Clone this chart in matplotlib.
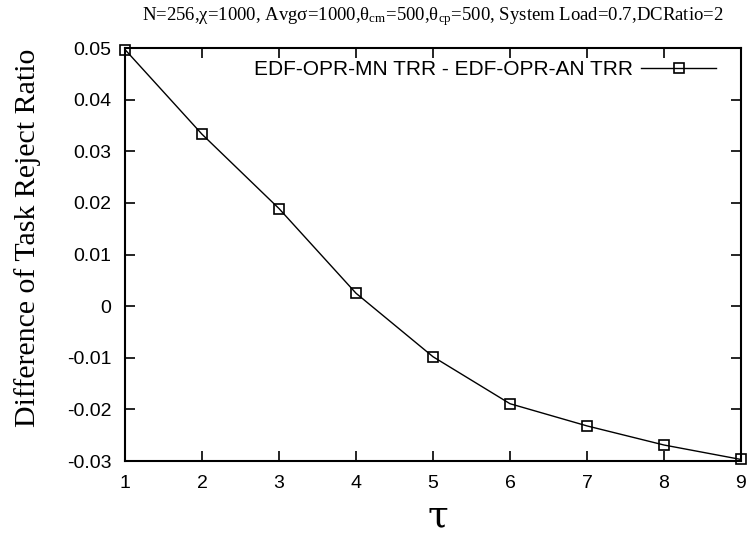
import matplotlib
matplotlib.use('Agg')
import matplotlib.pyplot as plt

# tau vs difference of task reject ratio
tau = [1, 2, 3, 4, 5, 6, 7, 8, 9]
diff_trr = [0.0497, 0.0333, 0.0189, 0.0025, -0.0098, -0.0189, -0.0232, -0.0269, -0.0297]

yticks = [-0.03, -0.02, -0.01, 0, 0.01, 0.02, 0.03, 0.04, 0.05]
ytick_labels = ['-0.03', '-0.02', '-0.01', '0', '0.01', '0.02', '0.03', '0.04', '0.05']

plt.rcParams['font.family'] = ['Liberation Sans', 'DejaVu Sans']
plt.rcParams['mathtext.fontset'] = 'custom'
plt.rcParams['mathtext.rm'] = 'Liberation Serif'
plt.rcParams['mathtext.it'] = 'Liberation Serif:italic'

fig = plt.figure(figsize=(7.5, 5.36), dpi=100)
ax = fig.add_axes([0.1667, 0.1399, 0.8213, 0.7705])

ax.plot(tau, diff_trr, color='black', lw=1.0, marker='s', markersize=7,
        markerfacecolor='none', markeredgecolor='black', markeredgewidth=1.2,
        label='EDF-OPR-MN TRR - EDF-OPR-AN TRR', clip_on=False, zorder=3)

ax.set_xlim(1, 9)
ax.set_ylim(-0.03, 0.05)
ax.set_xticks(tau)
ax.set_yticks(yticks)
ax.set_yticklabels(ytick_labels)
ax.tick_params(direction='in', length=7, width=1.2, labelsize=14, pad=10,
               top=True, right=True)
for s in ax.spines.values():
    s.set_linewidth(1.5)

ax.legend(loc='upper right', bbox_to_anchor=(0.96, 0.97), frameon=False,
          markerfirst=False, fontsize=15, handlelength=3.6, handletextpad=0.4,
          borderpad=0.0, borderaxespad=0.0)

fig.text(433/750, 1 - 20/536,
         r'N=256,χ=1000, Avgσ=1000,θ$_{\mathrm{cm}}$=500,θ$_{\mathrm{cp}}$=500, System Load=0.7,DCRatio=2',
         ha='center', va='baseline', fontsize=13.5, family='Liberation Serif')
fig.text(28/750, 1 - 238/536, 'Difference of Task Reject Ratio', rotation=90,
         ha='center', va='center', fontsize=21.5, family='Liberation Serif')
fig.text(438/750, 1 - 526/536, 'τ', ha='center', va='baseline', fontsize=27,
         family='DejaVu Serif')

fig.savefig('out.png', dpi=100)
